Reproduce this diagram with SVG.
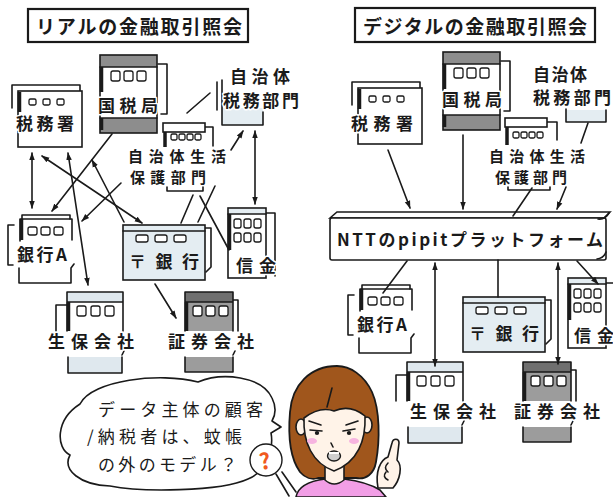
<svg xmlns="http://www.w3.org/2000/svg" width="613" height="497" viewBox="0 0 613 497">
<style>
  .ln{fill:none;stroke:#1a1a1a;stroke-width:1.6;stroke-linejoin:round;stroke-linecap:round}
  .bx{stroke:#1a1a1a;stroke-width:1.6}
  .thk{fill:none;stroke:#1a1a1a;stroke-width:3.5}
  .win{fill:#fff;stroke:#1a1a1a;stroke-width:1.3}
  .cn{fill:none;stroke:#1a1a1a;stroke-width:1.6;stroke-linecap:round}
  .lbl{font-family:"Noto Sans CJK JP","Noto Sans",sans-serif;font-size:17px;font-weight:bold;fill:#1a1a1a;text-anchor:middle}
  .sm{font-size:15px}
  .ttl{font-family:"Noto Sans CJK JP","Noto Sans",sans-serif;font-size:19px;font-weight:bold;fill:#1a1a1a;text-anchor:middle}
  .say{font-family:"Noto Sans CJK JP","Noto Sans",sans-serif;font-size:17px;fill:#1a1a1a}
  .halo{paint-order:stroke;stroke:#fff;stroke-width:3;stroke-linejoin:round}
  .skin{fill:#fff3e8;stroke:#1a1a1a;stroke-width:1.6;stroke-linejoin:round}
</style>
<defs>
  <marker id="ah" viewBox="0 0 10 10" refX="9" refY="5" markerWidth="8" markerHeight="8" markerUnits="userSpaceOnUse" orient="auto-start-reverse">
    <path d="M0,1.5 L10,5 L0,8.5 Z" fill="#1a1a1a"/>
  </marker>

  <g id="bldg-zeimusho">
    <path class="ln" d="M12,108 V85 H80 V91"/>
    <rect class="bx" x="18" y="91" width="64" height="56" fill="#fff"/>
    <path class="thk" d="M19.5,92 V112"/>
    <rect class="win" x="29" y="99" width="7" height="6" rx="1.5"/>
    <rect class="win" x="43" y="99" width="7" height="6" rx="1.5"/>
    <rect class="win" x="57" y="99" width="7" height="6" rx="1.5"/>
  </g>

  <g id="bldg-kokuzei">
    <rect x="100" y="55" width="57" height="78" fill="#fff"/>
    <rect x="100" y="55" width="57" height="12" fill="#8d8d8d"/>
    <rect x="100" y="118" width="57" height="15" fill="#8d8d8d"/>
    <rect class="bx" x="100" y="55" width="57" height="78" fill="none"/>
    <path class="ln" d="M100,67 H157 M100,118 H157"/>
    <path class="thk" d="M101.5,67 V92 M101.5,118 V130"/>
    <rect class="win" x="111" y="71" width="9" height="10" rx="2"/>
    <rect class="win" x="124" y="71" width="9" height="10" rx="2"/>
    <rect class="win" x="137" y="71" width="9" height="10" rx="2"/>
    <path class="ln" d="M158,64 H167 V114 H161"/>
  </g>

  <g id="bldg-ginkoA">
    <path class="ln" d="M14,225 H8 V265 H13"/>
    <path class="ln" d="M22,219 V215 H70 V219"/>
    <path class="ln" d="M20,241 V219 H72 V240"/>
    <path class="thk" d="M21.5,219 V240"/>
    <rect class="win" x="28" y="227" width="9" height="8" rx="2"/>
    <rect class="win" x="41" y="227" width="9" height="8" rx="2"/>
    <rect class="win" x="54" y="227" width="9" height="8" rx="2"/>
    <path class="ln" d="M19,268 V283 H71 V268 L74,264"/>
  </g>

  <g id="bldg-yucho">
    <path class="ln" d="M205,228 H211 V267 L206,272"/>
    <rect class="bx" x="123" y="225" width="82" height="55" fill="#e4edf2"/>
    <path class="ln" d="M123,231 H205"/>
    <rect class="win" x="136" y="235" width="12" height="7" rx="2"/>
    <rect class="win" x="155" y="235" width="12" height="7" rx="2"/>
    <rect class="win" x="174" y="235" width="12" height="7" rx="2"/>
  </g>

  <g id="bldg-shinkin">
    <path class="ln" d="M266,213 H275 V276"/>
    <rect class="bx" x="228" y="208" width="38" height="70" fill="#fff"/>
    <rect x="229" y="209" width="36" height="5" fill="#e4edf2"/>
    <path class="ln" d="M228,214 H266"/>
    <path class="thk" d="M229.5,214 V250"/>
    <rect class="win" x="234" y="219" width="7" height="9" rx="2"/>
    <rect class="win" x="244" y="219" width="7" height="9" rx="2"/>
    <rect class="win" x="254" y="219" width="7" height="9" rx="2"/>
    <rect class="win" x="234" y="233" width="7" height="9" rx="2"/>
    <rect class="win" x="244" y="233" width="7" height="9" rx="2"/>
    <rect class="win" x="254" y="233" width="7" height="9" rx="2"/>
  </g>

  <g id="bldg-seiho">
    <path class="ln" d="M67,305 H56 V331"/>
    <rect x="67" y="292" width="56" height="10" fill="#dfe8ee"/>
    <path class="ln" d="M67,331 V292 H123 V331 M67,302 H123"/>
    <path class="thk" d="M68.5,302 V331"/>
    <rect class="win" x="77" y="306" width="9" height="10" rx="2"/>
    <rect class="win" x="91" y="306" width="9" height="10" rx="2"/>
    <rect class="win" x="105" y="306" width="9" height="10" rx="2"/>
    <rect x="68" y="357" width="54" height="16" fill="#dfe8ee"/>
    <path class="ln" d="M68,357 V373 H122 V357 M122,355 L124,351"/>
  </g>

  <g id="bldg-shoken">
    <path class="ln" d="M233,300 H238 V331"/>
    <rect x="185" y="292" width="48" height="39" fill="#9c9c9c"/>
    <rect x="185" y="292" width="48" height="10" fill="#6f6f6f"/>
    <path class="ln" d="M185,331 V292 H233 V331 M185,302 H233"/>
    <path class="thk" d="M186.5,302 V331"/>
    <rect class="win" x="193" y="306" width="9" height="10" rx="2"/>
    <rect class="win" x="206" y="306" width="9" height="10" rx="2"/>
    <rect class="win" x="219" y="306" width="9" height="10" rx="2"/>
    <rect x="185" y="357" width="48" height="15" fill="#9c9c9c"/>
    <path class="ln" d="M185,357 V372 H233 V357 M233,355 L235,351"/>
  </g>
</defs>

<rect width="613" height="497" fill="#fff"/>

<!-- titles -->
<g id="title-real">
  <rect x="28" y="9" width="220" height="33" fill="#fff" stroke="#1a1a1a" stroke-width="2.2"/>
  <text class="ttl" x="139" y="34" textLength="206" lengthAdjust="spacing">リアルの金融取引照会</text>
</g>
<g id="title-digital">
  <rect x="355" y="8" width="240" height="34" fill="#fff" stroke="#1a1a1a" stroke-width="2.2"/>
  <text class="ttl" x="475" y="34" textLength="224" lengthAdjust="spacing">デジタルの金融取引照会</text>
</g>

<!-- ===== left: real-world inquiries ===== -->
<g id="l-zeimusho">
  <use href="#bldg-zeimusho"/>
  <text class="lbl halo" x="45" y="130" textLength="58">税務署</text>
</g>
<g id="l-kokuzeikyoku">
  <use href="#bldg-kokuzei"/>
  <text class="lbl halo" x="128" y="112" textLength="60">国税局</text>
</g>
<g id="l-jichitai-zeimu">
  <path class="ln" d="M217,110 V82"/>
  <rect x="222" y="80" width="41" height="45" fill="#fff"/>
  <rect x="222" y="108" width="41" height="17" fill="#e4edf2"/>
  <path class="ln" d="M222,80 V125 H263 V112"/>
  <text class="lbl halo" x="260" y="83" textLength="60">自治体</text>
  <text class="lbl halo" x="261" y="107" textLength="76">税務部門</text>
</g>
<g id="l-seikatsu-hogo">
  <path class="ln" d="M205,127 H213 V146"/>
  <rect class="bx" x="163" y="123" width="42" height="9" fill="#fff"/>
  <path class="thk" d="M165,132 V147"/>
  <rect class="win" x="171" y="134" width="6" height="6" rx="1.5"/>
  <rect class="win" x="179" y="134" width="6" height="6" rx="1.5"/>
  <rect class="win" x="187" y="134" width="6" height="6" rx="1.5"/>
  <rect class="win" x="195" y="134" width="6" height="6" rx="1.5"/>
  <text class="lbl sm halo" x="177" y="162" textLength="98">自治体生活</text>
  <text class="lbl sm halo" x="168" y="183" textLength="76">保護部門</text>
  <path class="ln" d="M167,187 V191 H203 V187"/>
</g>
<g id="l-ginko-a">
  <use href="#bldg-ginkoA"/>
  <text class="lbl halo" x="42" y="261" textLength="50">銀行A</text>
</g>
<g id="l-yucho">
  <use href="#bldg-yucho"/>
  <text class="lbl" x="164" y="268" textLength="70">〒銀行</text>
</g>
<g id="l-shinkin">
  <use href="#bldg-shinkin"/>
  <text class="lbl halo" x="256" y="272" textLength="40">信金</text>
</g>
<g id="l-seiho">
  <use href="#bldg-seiho"/>
  <text class="lbl halo" x="91" y="348" textLength="86">生保会社</text>
</g>
<g id="l-shoken">
  <use href="#bldg-shoken"/>
  <text class="lbl halo" x="211" y="348" textLength="86">証券会社</text>
</g>

<!-- ===== right: digital platform ===== -->
<g id="r-zeimusho">
  <use href="#bldg-zeimusho" x="340" y="-3"/>
  <text class="lbl halo" x="382" y="130" textLength="62">税務署</text>
</g>
<g id="r-kokuzeikyoku">
  <use href="#bldg-kokuzei" x="343" y="-3"/>
  <text class="lbl halo" x="472" y="106" textLength="60">国税局</text>
</g>
<g id="r-jichitai-zeimu">
  <rect x="566" y="110" width="40" height="12" fill="#e4edf2"/>
  <path class="ln" d="M566,109 V122 H606 V110"/>
  <text class="lbl halo" x="560" y="81" textLength="54">自治体</text>
  <text class="lbl halo" x="572" y="104" textLength="78">税務部門</text>
</g>
<g id="r-seikatsu-hogo">
  <path class="ln" d="M547,122 H557 V140"/>
  <rect class="bx" x="505" y="118" width="42" height="9" fill="#fff"/>
  <path class="thk" d="M507,127 V145"/>
  <rect class="win" x="513" y="132" width="6" height="6" rx="1.5"/>
  <rect class="win" x="521" y="132" width="6" height="6" rx="1.5"/>
  <rect class="win" x="529" y="132" width="6" height="6" rx="1.5"/>
  <rect class="win" x="537" y="132" width="6" height="6" rx="1.5"/>
  <text class="lbl sm halo" x="537" y="162" textLength="96">自治体生活</text>
  <text class="lbl sm halo" x="531" y="183" textLength="72">保護部門</text>
  <path class="ln" d="M508,187 V190 H550 V187"/>
</g>
<g id="r-platform">
  <path class="bx" d="M330,218 L337,212 H610 L604,218 Z" fill="#fff"/>
  <rect class="bx" x="330" y="218" width="276" height="42" rx="2" fill="#fff"/>
  <path class="ln" d="M597,259 Q604,258 606,252 M598,219 Q605,220 609,213"/>
  <text class="lbl" x="470" y="246" font-size="19" textLength="266" lengthAdjust="spacing">NTTのpipitプラットフォーム</text>
</g>
<g id="r-ginko-a">
  <use href="#bldg-ginkoA" x="340" y="70"/>
  <text class="lbl halo" x="382" y="331" textLength="50">銀行A</text>
</g>
<g id="r-yucho">
  <use href="#bldg-yucho" x="340" y="72"/>
  <text class="lbl" x="504" y="340" textLength="70">〒銀行</text>
</g>
<g id="r-shinkin">
  <use href="#bldg-shinkin" x="340" y="70"/>
  <text class="lbl halo" x="594" y="342" textLength="40">信金</text>
</g>
<g id="r-seiho">
  <use href="#bldg-seiho" x="340" y="70"/>
  <text class="lbl halo" x="453" y="418" textLength="86">生保会社</text>
</g>
<g id="r-shoken">
  <use href="#bldg-shoken" x="338" y="70"/>
  <text class="lbl halo" x="557" y="418" textLength="86">証券会社</text>
</g>

<!-- connectors -->
<g id="connectors">
  <!-- left mesh -->
  <line class="cn" x1="32" y1="153" x2="32" y2="208" marker-start="url(#ah)" marker-end="url(#ah)"/>
  <line class="cn" x1="42" y1="156" x2="142" y2="223" marker-start="url(#ah)" marker-end="url(#ah)"/>
  <line class="cn" x1="112" y1="134" x2="52" y2="211" marker-end="url(#ah)"/>
  <line class="cn" x1="68" y1="153" x2="88" y2="285" marker-start="url(#ah)" marker-end="url(#ah)"/>
  <line class="cn" x1="92" y1="160" x2="124" y2="222" marker-start="url(#ah)"/>
  <line class="cn" x1="121" y1="183" x2="82" y2="221" marker-end="url(#ah)"/>
  <line class="cn" x1="193" y1="195" x2="181" y2="223"/>
  <line class="cn" x1="215" y1="186" x2="198" y2="222"/>
  <line class="cn" x1="200" y1="196" x2="229" y2="250"/>
  <line class="cn" x1="255" y1="131" x2="255" y2="204" marker-start="url(#ah)" marker-end="url(#ah)"/>
  <line class="cn" x1="231" y1="150" x2="243" y2="131" marker-end="url(#ah)"/>
  <line class="cn" x1="187" y1="113" x2="210" y2="93"/>
  <line class="cn" x1="155" y1="284" x2="176" y2="318" marker-end="url(#ah)"/>
  <!-- right hub -->
  <line class="cn" x1="388" y1="150" x2="410" y2="208" marker-end="url(#ah)"/>
  <line class="cn" x1="463" y1="135" x2="463" y2="209" marker-end="url(#ah)"/>
  <line class="cn" x1="532" y1="188" x2="513" y2="216"/>
  <line class="cn" x1="588" y1="123" x2="581" y2="143"/>
  <line class="cn" x1="566" y1="187" x2="557" y2="209" marker-end="url(#ah)"/>
  <line class="cn" x1="407" y1="261" x2="383" y2="293"/>
  <line class="cn" x1="435" y1="263" x2="435" y2="366" marker-start="url(#ah)" marker-end="url(#ah)"/>
  <line class="cn" x1="498" y1="260" x2="498" y2="297"/>
  <line class="cn" x1="558" y1="263" x2="558" y2="364" marker-start="url(#ah)" marker-end="url(#ah)"/>
  <line class="cn" x1="577" y1="261" x2="598" y2="284" marker-end="url(#ah)"/>
</g>

<!-- thought bubble -->
<g id="bubble">
  <path d="M80,404 C92,380 160,372 198,382 C222,372 262,376 272,398 C276,406 276,414 272,421 L281,427 L271,433 C274,448 266,472 248,479 C220,492 140,492 110,486 C80,485 62,470 70,455 C56,448 55,420 80,404 Z" fill="#fff" stroke="#1a1a1a" stroke-width="1.6" stroke-linejoin="round"/>
  <text class="say" x="98" y="416" textLength="165" lengthAdjust="spacing">データ主体の顧客</text>
  <text class="say" x="87" y="443" textLength="155" lengthAdjust="spacing">/納税者は、蚊帳</text>
  <text class="say" x="98" y="471" textLength="139" lengthAdjust="spacing">の外のモデル？</text>
</g>

<!-- questioning person -->
<g id="person">
  <path d="M337,366 C310,366 292,385 290,412 C288,435 290,458 300,472 C305,478 312,480 318,478 L356,478 C366,480 374,474 376,462 C380,440 380,410 372,392 C364,375 350,366 337,366 Z" fill="#a0561c" stroke="#1a1a1a" stroke-width="1.8"/>
  <path d="M332,388 L327,407" class="ln"/>
  <path d="M296,497 C298,486 310,481 325,479 L344,479 C360,481 372,485 380,490 L386,497 Z" fill="#f29ee6" stroke="#1a1a1a" stroke-width="1.6" stroke-linejoin="round"/>
  <path class="skin" d="M325,464 L325,480 Q334,488 344,480 L344,464 Z"/>
  <ellipse class="skin" cx="301" cy="427" rx="5" ry="8"/>
  <ellipse class="skin" cx="367" cy="425" rx="5" ry="8"/>
  <path class="skin" d="M304,418 Q320,406 334,411 Q350,404 365,416 C366,440 358,462 334,471 C312,463 303,442 304,418 Z"/>
  <path class="ln" d="M309,421 L321,425 M358,421 L346,425 M310,430 L322,431 M343,431 L355,429 M331,443 L333,447"/>
  <ellipse cx="317" cy="433" rx="2.2" ry="2" fill="#1a1a1a"/>
  <ellipse cx="349" cy="433" rx="2.2" ry="2" fill="#1a1a1a"/>
  <ellipse cx="312" cy="441" rx="5" ry="3" fill="#f7b4e0"/>
  <ellipse cx="354" cy="441" rx="5" ry="3" fill="#f7b4e0"/>
  <ellipse cx="334" cy="456" rx="6.5" ry="5" fill="#cfcfcf" stroke="#1a1a1a" stroke-width="1.4"/>
  <path d="M329,453 H339" stroke="#fff" stroke-width="2"/>
  <path class="skin" d="M378,488 C375,472 380,460 388,457 L392,443 C393,438 399,438 399,443 L397,460 C403,466 400,480 393,488 Z"/>
  <path class="ln" d="M388,463 Q383,468 388,472 M386,472 Q382,477 388,480"/>
</g>

<!-- puzzled mark -->
<g id="question">
  <path class="ln" d="M276,474 L289,496 M282,472 L296,492"/>
  <circle cx="266" cy="460" r="16" fill="#fff" stroke="#1a1a1a" stroke-width="1.4"/>
  <text x="265" y="469" font-family="Noto Sans CJK JP, Noto Sans, sans-serif" font-size="22" font-weight="bold" fill="#f05a1e" text-anchor="middle" transform="rotate(-10 265 462)">?</text>
</g>
</svg>
